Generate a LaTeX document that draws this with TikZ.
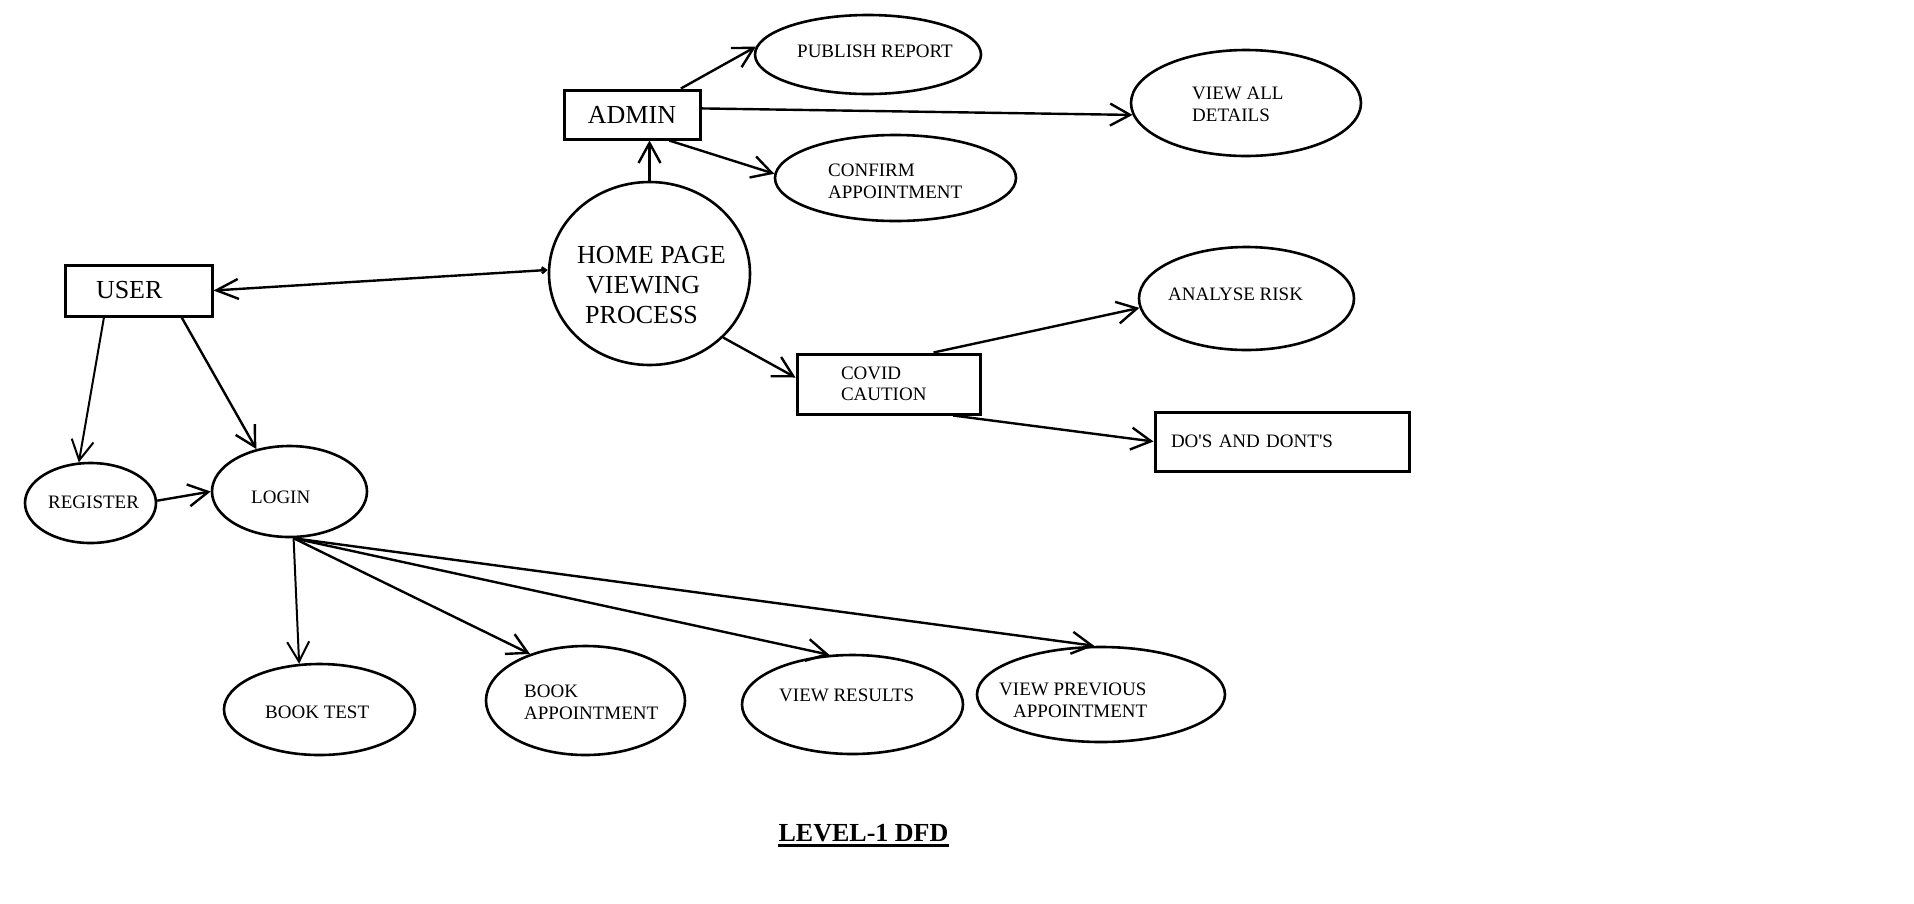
\documentclass[tikz,border=0pt]{standalone}
\usepackage{fontspec}
\setmainfont{Liberation Serif}
\usetikzlibrary{shapes.geometric,arrows.meta}
\begin{document}
\begin{tikzpicture}[x=1pt,y=-1pt,
  proc/.style={draw, ellipse, line width=2.6pt, inner sep=0pt},
  ent/.style={draw, rectangle, line width=3pt, inner sep=0pt},
  lbl/.style={font=\fontsize{19}{22}\selectfont, align=left, inner sep=0pt, anchor=west},
  biglbl/.style={font=\fontsize{26}{30}\selectfont, align=left, inner sep=0pt},
  flow/.style={line width=2.4pt, -{Straight Barb[length=20pt,width=22pt]}},
]
\useasboundingbox (0,0) rectangle (1914,903);

% processes (ellipses)
\node[proc, minimum width=226pt, minimum height=79pt]  (publish)  at (868,54.5) {};
\node[proc, minimum width=241pt, minimum height=86pt]  (confirm)  at (895.5,178) {};
\node[proc, minimum width=230pt, minimum height=106pt] (viewall)  at (1246,103) {};
\node[proc, minimum width=215pt, minimum height=103pt] (analyse)  at (1246.5,298.5) {};
\node[proc, minimum width=201pt, minimum height=183pt] (home)     at (649.5,273.5) {};
\node[proc, minimum width=131pt, minimum height=80pt]  (register) at (90.5,503) {};
\node[proc, minimum width=155pt, minimum height=91pt]  (login)    at (289.5,491.5) {};
\node[proc, minimum width=191pt, minimum height=91pt]  (booktest) at (319.5,709.5) {};
\node[proc, minimum width=199pt, minimum height=109pt] (bookappt) at (585.5,700.5) {};
\node[proc, minimum width=221pt, minimum height=99pt]  (viewres)  at (852.5,704.5) {};
\node[proc, minimum width=248pt, minimum height=95pt]  (viewprev) at (1101,694.5) {};

% texts of processes
\node[lbl] (publisht)  at (797,51)   {PUBLISH REPORT};
\node[lbl] (confirmt)  at (828,181.5) {CONFIRM\\APPOINTMENT};
\node[lbl] (viewallt)  at (1192,104) {VIEW ALL\\DETAILS};
\node[lbl] (analyset)  at (1168,294) {ANALYSE RISK};
\node[biglbl, anchor=west] (homet) at (577,285) {HOME PAGE\\\hspace*{9pt}VIEWING\\\hspace*{8pt}PROCESS};
\node[lbl] (registert) at (48,502)   {REGISTER};
\node[lbl] (logint)    at (251,497)  {LOGIN};
\node[lbl] (booktestt) at (265,712)  {BOOK TEST};
\node[lbl] (bookapptt) at (524,702)  {BOOK\\APPOINTMENT};
\node[lbl] (viewrest)  at (779,695)  {VIEW RESULTS};
\node[lbl] (viewprevt) at (999,700)  {VIEW PREVIOUS\\\hspace*{14pt}APPOINTMENT};

% entities (boxes)
\node[ent, biglbl, minimum width=136pt, minimum height=49pt] (admin) at (632,114.5) {ADMIN};
\node[ent, biglbl, text width=85pt, inner xsep=31pt, inner ysep=0pt, minimum height=51pt] (user)  at (138.5,290.5) {USER};
\node[ent, font=\fontsize{19}{21}\selectfont, align=left, text width=95pt, inner xsep=44pt, inner ysep=0pt, minimum height=60pt] (covid) at (888.5,384) {COVID\\CAUTION};
\node[ent, font=\fontsize{19}{22}\selectfont, align=left, text width=222pt, inner xsep=16pt, inner ysep=0pt, minimum height=59pt] (dos) at (1282,441.5) {DO\textquotesingle S AND DONT\textquotesingle S};

% title
\node[font=\bfseries\fontsize{26}{30}\selectfont, inner sep=0pt] (title) at (863.5,833) {LEVEL-1 DFD};
\draw[line width=2.5pt] ([yshift=-4pt]title.base west) -- ([yshift=-4pt]title.base east);

% connectors
\draw[flow] (admin.28) -- (publish.176);
\draw[flow] (admin.5) -- (viewall.186);
\draw[flow] (admin.-35) -- (confirm.178);
\draw[flow] (home.north) -- (home.north |- admin.south);
\draw[line width=2.4pt, {Straight Barb[length=22pt,width=20pt]}-{Straight Barb[length=4pt,width=6pt]}] (user.east) -- (home.178);
\draw[flow] (home.-41) -- (covid.176);
\draw[flow] (covid.35) -- (analyse.185);
\draw[flow] (covid.-26) -- (dos.west);
\draw[flow, line width=2pt] (user.-142) -- (register.106);
\draw[flow] (user.-32) -- (login.128);
\draw[flow] (register.2) -- (login.west);
\draw[flow, line width=2pt] (login.-85) -- (booktest.114);
\draw[flow] (login.-85) -- (bookappt.140);
\draw[flow] (login.-85) -- (viewres.115);
\draw[flow] (login.-85) -- (viewprev.98);
\end{tikzpicture}
\end{document}
